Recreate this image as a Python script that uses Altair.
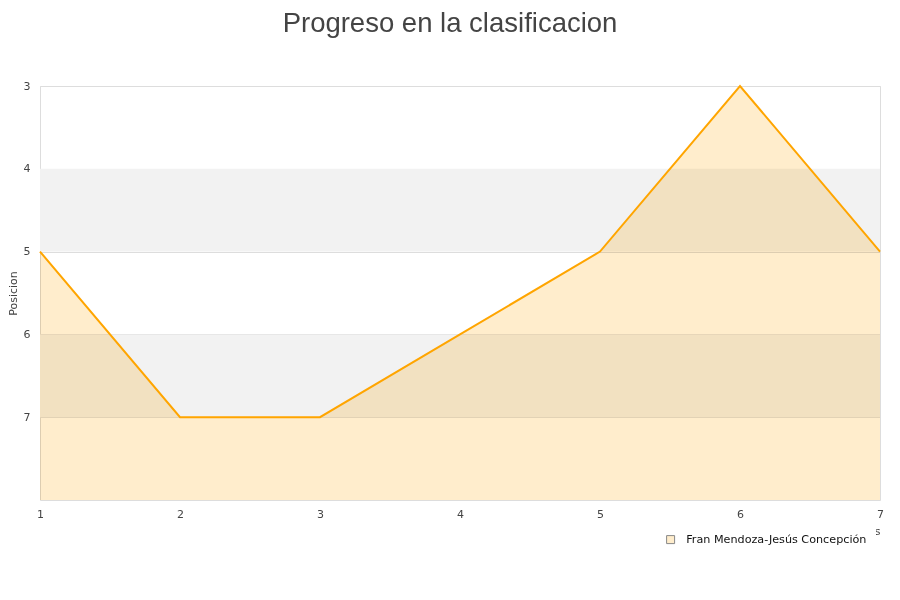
import altair as alt
import pandas as pd

jornadas = [1, 2, 3, 4, 5, 6, 7]
posiciones = [5, 7, 7, 6, 5, 3, 5]
serie = "Fran Mendoza-Jesús Concepción"
band_start = [4, 6]
band_end = [5, 7]
y_ticks = [3, 4, 5, 6, 7]

df = pd.DataFrame({"Jornada": jornadas, "Posicion": posiciones, "serie": [serie] * len(jornadas), "base": [8] * len(jornadas)})
bands = pd.DataFrame({"y": band_start, "y2": band_end})

W, H = 840, 414
xs = alt.Scale(domain=[1, 7], nice=False, zero=False)
ys = alt.Scale(domain=[3, 8], reverse=True, nice=False, zero=False)

band_layer = alt.Chart(bands).mark_rect(color="#f2f2f2").encode(
    x=alt.value(0), x2=alt.value(W),
    y=alt.Y("y:Q", scale=ys), y2="y2:Q",
)

area = alt.Chart(df).mark_area(blend="multiply").encode(
    x=alt.X("Jornada:Q", scale=xs,
            axis=alt.Axis(values=jornadas, title="Jornadas", grid=False, ticks=False, domain=False,
                          labelPadding=8, labelFlush=False, labelBound=False,
                          titleAnchor="end", titleAlign="right", titlePadding=6,
                          format="d")),
    y=alt.Y("Posicion:Q", scale=ys,
            axis=alt.Axis(values=y_ticks, title="Posicion", grid=True, gridColor="#dddddd",
                          ticks=False, domain=False, labelPadding=10, format="d", titlePadding=5)),
    y2="base:Q",
    color=alt.Color("serie:N", scale=alt.Scale(range=["#ffedcc"]),
                    legend=alt.Legend(title=None, orient="none", legendX=616, legendY=439,
                                      symbolType="square", symbolStrokeColor="#888888",
                                      symbolStrokeWidth=1, symbolSize=64, fillColor="white",
                                      padding=9, labelOffset=10, labelFontSize=11.2, labelColor="#111111",
                                      labelFont="DejaVu Sans", labelLimit=400)),
)

line = alt.Chart(df).mark_line(color="#ffa500", strokeWidth=2).encode(
    x=alt.X("Jornada:Q", scale=xs),
    y=alt.Y("Posicion:Q", scale=ys),
)

chart = alt.layer(band_layer, area, line).properties(
    width=W, height=H,
    title=alt.TitleParams("Progreso en la clasificacion", fontSize=27.5, font="Liberation Sans",
                          fontWeight="normal", color="#444444", anchor="middle", dx=-10, offset=43),
    autosize=alt.AutoSizeParams(type="none"),
    padding={"left": 32, "top": 78, "right": 12, "bottom": 60},
).configure_view(stroke="#dddddd").configure_axis(
    labelFont="DejaVu Sans", labelFontSize=11, labelColor="#444444",
    titleFont="DejaVu Sans", titleFontSize=11, titleColor="#444444", titleFontWeight="normal",
)

chart.save("out.html", embed_options={"renderer": "svg", "actions": False})
